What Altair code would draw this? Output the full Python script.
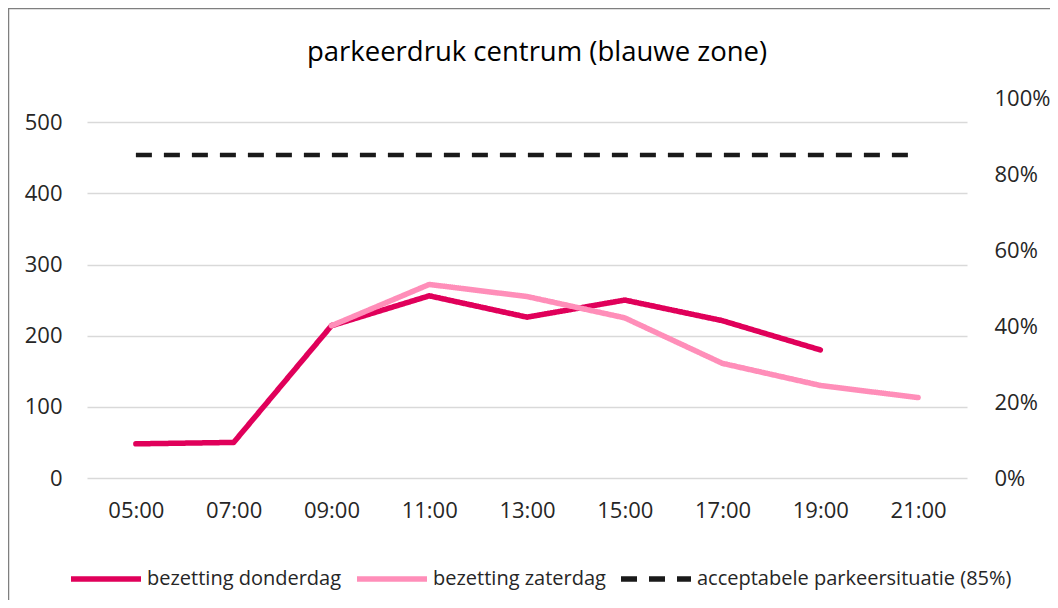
import altair as alt
import pandas as pd

hours = ["05:00", "07:00", "09:00", "11:00", "13:00", "15:00", "17:00", "19:00", "21:00"]
donderdag = [48, 50, 214, 256, 226, 250, 221, 180, None]
zaterdag = [None, None, 214, 272, 255, 225, 161, 130, 113]
norm_pct = [0.85] * 9

s_don = "bezetting donderdag"
s_zat = "bezetting zaterdag"
s_norm = "acceptabele parkeersituatie (85%)"
series_names = [s_don, s_zat, s_norm]
series_colors = ["#E0005A", "#FF8EB9", "#1A1A1A"]
series_dash = [[1, 0], [1, 0], [16, 12]]

rows = []
for name, vals in [(s_don, donderdag), (s_zat, zaterdag)]:
    for h, v in zip(hours, vals):
        if v is not None:
            rows.append({"uur": h, "waarde": v, "reeks": name})
occ = pd.DataFrame(rows)
norm = pd.DataFrame({"uur": hours, "pct": norm_pct, "reeks": [s_norm] * len(hours)})
frame = pd.DataFrame({"k": [0]})

FONT = "Open Sans"
TXT = "#262626"
AX_FS = 22

x_enc = alt.X("uur:O", sort=hours, scale=alt.Scale(type="point", padding=0.5),
              axis=alt.Axis(title=None, labelAngle=0, domain=False, ticks=False, grid=False,
                            labelPadding=22, labelFontSize=AX_FS, labelColor=TXT, labelFont=FONT))
color_enc = alt.Color("reeks:N", scale=alt.Scale(domain=series_names, range=series_colors),
                      legend=alt.Legend(title=None, orient="none", legendX=-19, legendY=443,
                                        direction="horizontal", symbolType="stroke",
                                        symbolSize=4900, symbolStrokeWidth=5.5,
                                        labelFontSize=20, labelFont=FONT, labelColor=TXT,
                                        labelLimit=0, labelOffset=3, columnPadding=4, padding=0))
dash_enc = alt.StrokeDash("reeks:N", scale=alt.Scale(domain=series_names, range=series_dash),
                          legend=alt.Legend(title=None))

lines = alt.Chart(occ).mark_line(strokeWidth=5.5, strokeCap="round", strokeJoin="round").encode(
    x=x_enc,
    y=alt.Y("waarde:Q", scale=alt.Scale(domain=[0, 534], nice=False, zero=True),
            axis=alt.Axis(title=None, values=[0, 100, 200, 300, 400, 500], domain=False, ticks=False,
                          grid=True, gridColor="#D9D9D9", gridWidth=1.5, labelPadding=25,
                          labelFontSize=AX_FS, labelColor=TXT, labelFont=FONT)),
    color=color_enc,
    strokeDash=dash_enc,
)

normline = alt.Chart(norm).mark_line(strokeWidth=4.5).encode(
    x=x_enc,
    y=alt.Y("pct:Q", scale=alt.Scale(domain=[0, 1], nice=False),
            axis=alt.Axis(title=None, orient="right", format=".0%", values=[0, 0.2, 0.4, 0.6, 0.8, 1.0],
                          domain=False, ticks=False, grid=False, labelPadding=27,
                          labelFontSize=AX_FS, labelColor=TXT, labelFont=FONT)),
    color=color_enc,
    strokeDash=dash_enc,
)

border = alt.Chart(frame).mark_rect(fill="transparent", stroke="#7F7F7F", strokeWidth=1.5, clip=False).encode(
    x=alt.value(-78.5), x2=alt.value(2000), y=alt.value(-89.5), y2=alt.value(2000)
)

chart = alt.layer(border, lines, normline).resolve_scale(y="independent").properties(
    width=880, height=380,
    padding={"left": 79, "top": 90, "right": 83, "bottom": 122},
    autosize=alt.AutoSizeParams(type="none"),
    title=alt.TitleParams("parkeerdruk centrum (blauwe zone)", fontSize=27.5, font=FONT,
                          fontWeight="normal", color="#000000", anchor="middle", frame="group",
                          dx=10, offset=-59),
).configure(background="white").configure_view(stroke=None)

chart.save("out.html", embed_options={"renderer": "svg", "actions": False})
